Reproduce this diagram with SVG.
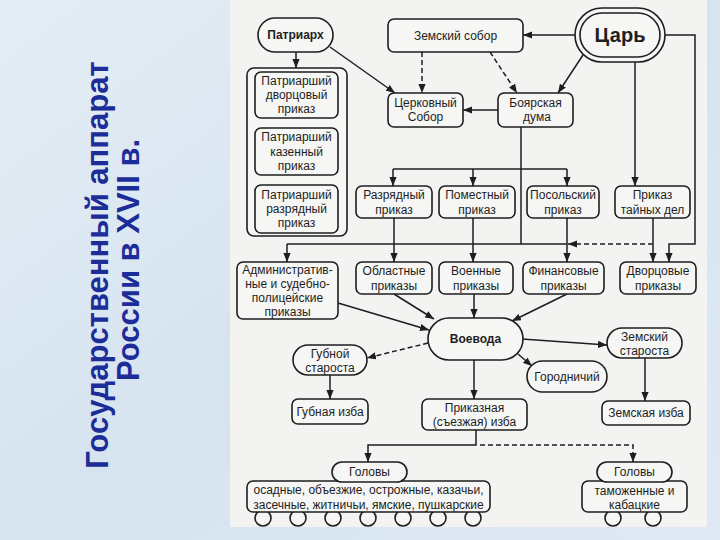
<svg xmlns="http://www.w3.org/2000/svg" width="720" height="540" viewBox="0 0 720 540">
<defs>
<linearGradient id="bg" x1="0" y1="0" x2="1" y2="1">
<stop offset="0" stop-color="#e4edf5"/>
<stop offset="0.5" stop-color="#d6e4f0"/>
<stop offset="1" stop-color="#dfe9f3"/>
</linearGradient>
<marker id="a" viewBox="0 0 10 8" refX="10" refY="4" markerWidth="9" markerHeight="7.2" orient="auto" markerUnits="userSpaceOnUse">
<path d="M0,0 L10,4 L0,8 z" fill="#1e1e1e"/>
</marker>
<style>
.n{fill:#f6f6f4;stroke:#1e1e1e;stroke-width:1.6}
.t{font-family:"Liberation Sans",Arial,sans-serif;font-size:12px;fill:#1e1e1e;text-anchor:middle;dominant-baseline:central}
.b{font-weight:bold}
.c{fill:none;stroke:#1e1e1e;stroke-width:1.5}
.d{stroke-dasharray:5 3}
.ttl{font-family:"Liberation Sans",Arial,sans-serif;font-size:31px;font-weight:bold;fill:#1c2c98;text-anchor:middle}
</style>
</defs>
<rect x="0" y="0" width="720" height="540" fill="url(#bg)"/>
<rect x="230" y="0" width="477" height="527" fill="#f3f3f1"/>

<g id="title">
<text class="ttl" transform="translate(108,265) rotate(-90)">Государственный аппарат</text>
<text class="ttl" transform="translate(139,260) rotate(-90)">России в XVII в.</text>
</g>

<g id="connectors">
<line class="c" x1="296" y1="52" x2="296" y2="68" marker-end="url(#a)"/>
<line class="c" x1="330" y1="47" x2="395" y2="93" marker-end="url(#a)"/>
<line class="c d" x1="422" y1="52" x2="422" y2="93" marker-end="url(#a)"/>
<line class="c" x1="575" y1="35" x2="523" y2="35" marker-end="url(#a)"/>
<line class="c" x1="583" y1="55" x2="558" y2="93" marker-end="url(#a)"/>
<line class="c d" x1="490" y1="52" x2="517" y2="93" marker-end="url(#a)"/>
<line class="c" x1="498" y1="110" x2="463" y2="110" marker-end="url(#a)"/>
<line class="c" x1="521" y1="127" x2="521" y2="244"/>
<line class="c" x1="393" y1="169" x2="567" y2="169"/>
<line class="c" x1="393" y1="169" x2="393" y2="186" marker-end="url(#a)"/>
<line class="c" x1="473" y1="169" x2="473" y2="186" marker-end="url(#a)"/>
<line class="c" x1="567" y1="169" x2="567" y2="186" marker-end="url(#a)"/>
<line class="c" x1="635" y1="62" x2="635" y2="186" marker-end="url(#a)"/>
<path class="c" d="M665,35 H695 V244 H669 V262" marker-end="url(#a)"/>
<line class="c" x1="653" y1="218" x2="653" y2="262" marker-end="url(#a)"/>
<line class="c d" x1="653" y1="244" x2="568" y2="244" marker-end="url(#a)"/>
<line class="c" x1="287" y1="244" x2="567" y2="244"/>
<line class="c" x1="287" y1="244" x2="287" y2="262" marker-end="url(#a)"/>
<line class="c" x1="394" y1="218" x2="394" y2="262" marker-end="url(#a)"/>
<line class="c" x1="473" y1="218" x2="473" y2="262" marker-end="url(#a)"/>
<line class="c" x1="567" y1="218" x2="567" y2="262" marker-end="url(#a)"/>
<line class="c" x1="338" y1="303" x2="429" y2="330" marker-end="url(#a)"/>
<line class="c" x1="394" y1="294" x2="434" y2="319" marker-end="url(#a)"/>
<line class="c" x1="474" y1="294" x2="474" y2="318" marker-end="url(#a)"/>
<line class="c" x1="567" y1="294" x2="512" y2="321" marker-end="url(#a)"/>
<line class="c d" x1="428" y1="343" x2="367" y2="358" marker-end="url(#a)"/>
<line class="c" x1="330" y1="375" x2="330" y2="399" marker-end="url(#a)"/>
<line class="c" x1="474" y1="360" x2="474" y2="399" marker-end="url(#a)"/>
<line class="c" x1="518" y1="354" x2="532" y2="366" marker-end="url(#a)"/>
<line class="c" x1="522" y1="339" x2="607" y2="345" marker-end="url(#a)"/>
<line class="c" x1="645" y1="358" x2="645" y2="401" marker-end="url(#a)"/>
<path class="c" d="M476,430 V445 H368 V462" marker-end="url(#a)"/>
<path class="c d" d="M480,445 H633 V462" marker-end="url(#a)"/>
</g>

<g id="patriarch">
<rect class="n" x="258" y="18" width="75" height="34" rx="17"/>
<text class="t b" x="295.5" y="35">Патриарх</text>
</g>
<g id="patriarch-prikazy">
<rect class="n" x="247" y="68" width="100" height="168" rx="7"/>
</g>
<g id="pp-dvortsovy">
<rect class="n" x="255" y="72" width="83" height="46" rx="6"/>
<text class="t" x="296.5" y="81">Патриарший</text>
<text class="t" x="296.5" y="95">дворцовый</text>
<text class="t" x="296.5" y="109">приказ</text>
</g>
<g id="pp-kazenny">
<rect class="n" x="255" y="128" width="83" height="47" rx="6"/>
<text class="t" x="296.5" y="137">Патриарший</text>
<text class="t" x="296.5" y="151.5">казенный</text>
<text class="t" x="296.5" y="166">приказ</text>
</g>
<g id="pp-razryadny">
<rect class="n" x="255" y="185" width="83" height="48" rx="6"/>
<text class="t" x="296.5" y="195">Патриарший</text>
<text class="t" x="296.5" y="209">разрядный</text>
<text class="t" x="296.5" y="223">приказ</text>
</g>
<g id="zemsky-sobor">
<rect class="n" x="388" y="19" width="135" height="33" rx="6"/>
<text class="t" x="455.5" y="35.5">Земский собор</text>
</g>
<g id="tsar">
<rect class="n" x="575" y="8" width="90" height="54" rx="27"/>
<rect class="n" x="580" y="13" width="80" height="44" rx="22"/>
<text class="t b" x="620" y="35" style="font-size:20px">Царь</text>
</g>
<g id="tserkovny-sobor">
<rect class="n" x="388" y="93" width="75" height="34" rx="6"/>
<text class="t" x="425.5" y="102.5">Церковный</text>
<text class="t" x="425.5" y="117">Собор</text>
</g>
<g id="boyarskaya-duma">
<rect class="n" x="498" y="93" width="75" height="34" rx="6"/>
<text class="t" x="535.5" y="102.5">Боярская</text>
<text class="t" x="537" y="117">дума</text>
</g>
<g id="razryadny">
<rect class="n" x="356" y="186" width="76" height="32" rx="6"/>
<text class="t" x="394" y="195">Разрядный</text>
<text class="t" x="394" y="209.5">приказ</text>
</g>
<g id="pomestny">
<rect class="n" x="439" y="186" width="76" height="32" rx="6"/>
<text class="t" x="477" y="195">Поместный</text>
<text class="t" x="477" y="209.5">приказ</text>
</g>
<g id="posolsky">
<rect class="n" x="527" y="186" width="72" height="32" rx="6"/>
<text class="t" x="563" y="195">Посольский</text>
<text class="t" x="563" y="209.5">приказ</text>
</g>
<g id="tainykh-del">
<rect class="n" x="615" y="186" width="75" height="32" rx="6"/>
<text class="t" x="652.5" y="195">Приказ</text>
<text class="t" x="652.5" y="209.5">тайных дел</text>
</g>
<g id="admin">
<rect class="n" x="237" y="262" width="101" height="57" rx="6"/>
<text class="t" x="287.5" y="270">Административ-</text>
<text class="t" x="287.5" y="284">ные и судебно-</text>
<text class="t" x="287.5" y="298">полицейские</text>
<text class="t" x="287.5" y="312">приказы</text>
</g>
<g id="oblastnye">
<rect class="n" x="356" y="262" width="76" height="32" rx="6"/>
<text class="t" x="394" y="271">Областные</text>
<text class="t" x="394" y="285.5">приказы</text>
</g>
<g id="voennye">
<rect class="n" x="439" y="262" width="74" height="32" rx="6"/>
<text class="t" x="476" y="271">Военные</text>
<text class="t" x="476" y="285.5">приказы</text>
</g>
<g id="finansovye">
<rect class="n" x="523" y="262" width="81" height="32" rx="6"/>
<text class="t" x="563.5" y="271">Финансовые</text>
<text class="t" x="563.5" y="285.5">приказы</text>
</g>
<g id="dvortsovye">
<rect class="n" x="620" y="262" width="76" height="32" rx="6"/>
<text class="t" x="658" y="271">Дворцовые</text>
<text class="t" x="658" y="285.5">приказы</text>
</g>
<g id="voevoda">
<rect class="n" x="428" y="318" width="95" height="42" rx="21"/>
<text class="t b" x="475.5" y="339">Воевода</text>
</g>
<g id="gubnoy-starosta">
<rect class="n" x="293" y="345" width="74" height="30" rx="15"/>
<text class="t" x="330" y="353.5">Губной</text>
<text class="t" x="330" y="367.5">староста</text>
</g>
<g id="gubnaya-izba">
<rect class="n" x="292" y="399" width="76" height="25" rx="6"/>
<text class="t" x="330" y="411.5">Губная изба</text>
</g>
<g id="prikaznaya-izba">
<rect class="n" x="422" y="399" width="105" height="31" rx="6"/>
<text class="t" x="474.5" y="408">Приказная</text>
<text class="t" x="474.5" y="422">(съезжая) изба</text>
</g>
<g id="gorodnichy">
<rect class="n" x="527" y="361" width="80" height="31" rx="15.5"/>
<text class="t" x="567" y="376.5">Городничий</text>
</g>
<g id="zemsky-starosta">
<rect class="n" x="607" y="328" width="75" height="30" rx="15"/>
<text class="t" x="644.5" y="337">Земский</text>
<text class="t" x="644.5" y="351">староста</text>
</g>
<g id="zemskaya-izba">
<rect class="n" x="602" y="401" width="88" height="24" rx="6"/>
<text class="t" x="646" y="413">Земская изба</text>
</g>
<g id="golovy-1">
<circle class="n" cx="263" cy="518" r="8"/>
<circle class="n" cx="298" cy="518" r="8"/>
<circle class="n" cx="333" cy="518" r="8"/>
<circle class="n" cx="368" cy="518" r="8"/>
<circle class="n" cx="403" cy="518" r="8"/>
<circle class="n" cx="438" cy="518" r="8"/>
<circle class="n" cx="473" cy="518" r="8"/>
<rect class="n" x="247" y="481" width="243" height="31" rx="6"/>
<rect class="n" x="332" y="462" width="75" height="20" rx="10"/>
<text class="t" x="369.5" y="472">Головы</text>
<text class="t" x="368.5" y="490">осадные, объезжие, острожные, казачьи,</text>
<text class="t" x="368.5" y="504.5">засечные, житничьи, ямские, пушкарские</text>
</g>
<g id="golovy-2">
<circle class="n" cx="613" cy="518" r="8"/>
<circle class="n" cx="653" cy="518" r="8"/>
<rect class="n" x="582" y="481" width="105" height="31" rx="6"/>
<rect class="n" x="597" y="462" width="75" height="20" rx="10"/>
<text class="t" x="634.5" y="472">Головы</text>
<text class="t" x="634.5" y="490.5">таможенные и</text>
<text class="t" x="634.5" y="504.5">кабацкие</text>
</g>
</svg>
